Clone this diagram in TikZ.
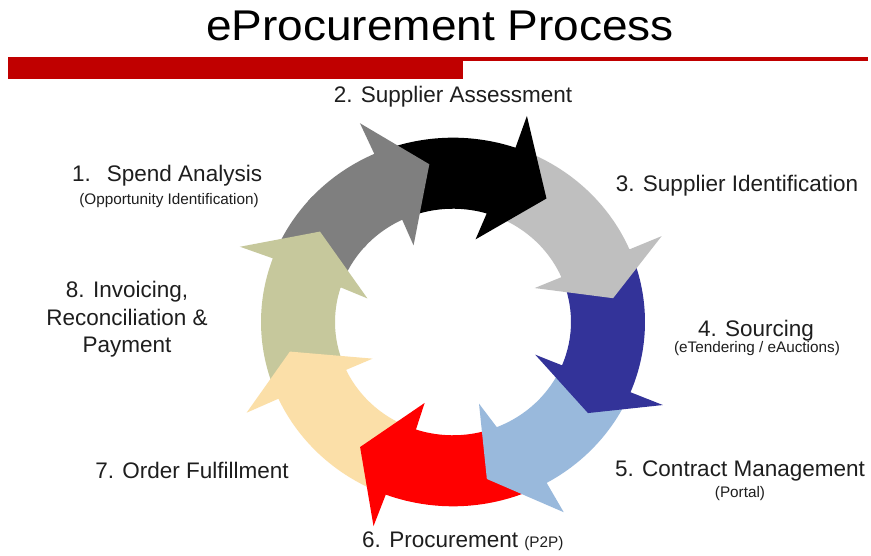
\documentclass[tikz,border=0pt]{standalone}
\usepackage{fontspec}
\setmainfont{Liberation Sans}
\definecolor{arA}{HTML}{7F7F7F}
\definecolor{arB}{HTML}{000000}
\definecolor{arC}{HTML}{BFBFBF}
\definecolor{arD}{HTML}{333399}
\definecolor{arE}{HTML}{99B9DC}
\definecolor{arF}{HTML}{FF0000}
\definecolor{arG}{HTML}{FBDFA8}
\definecolor{arH}{HTML}{C6C89C}
\definecolor{barred}{HTML}{C00000}
\definecolor{txt}{HTML}{1E1E1E}
\def\pRo{192pt}
\def\pRi{118pt}
\def\pHo{227pt}
\def\pHi{89pt}
% arrow: #1 tail outer angle, #2 tail inner angle, #3 outer base angle,
% #4 inner corner angle, #5 inner base angle, #6 tip angle, #7 tip radius, #8 colour
\newcommand\procarrow[8]{%
  \fill[#8] (#1:\pRo) arc[start angle=#1, end angle=#3, radius=\pRo]
    -- (#3:\pHo) -- (#6:#7pt) -- (#4:\pHi) -- (#5:\pRi)
    arc[start angle=#5, end angle=#2, radius=\pRi] -- cycle;}
% plain band: #1 outer start, #2 inner start, #3 end angle, #4 colour
\newcommand\procband[4]{%
  \fill[#4] (#1:\pRo) arc[start angle=#1, end angle=#3, radius=\pRo]
    -- (#3:\pRi) arc[start angle=#3, end angle=#2, radius=\pRi] -- cycle;}
\tikzset{
  mainlbl/.style={font=\fontsize{22.5}{26}\selectfont, text=txt, inner sep=0pt},
  sublbl/.style={font=\fontsize{15.3}{18}\selectfont, text=txt, inner sep=0pt},
}
\begin{document}
\begin{tikzpicture}[x=1pt,y=1pt]
\useasboundingbox (0,0) rectangle (871,556);
\fill[white] (0,0) rectangle (871,556);
% title and bar
\node[font=\fontsize{43}{50}\selectfont, anchor=base, inner sep=0pt, xscale=1.07] (title) at (440,515) {eProcurement Process};
\fill[barred] (8,477) rectangle (463,499);
\fill[barred] (463,495) rectangle (868,499);
% ring of arrows (each head lies over the next arrow's tail)
\begin{scope}[shift={(453,234)}, yscale=0.96]
  \procband{159.8}{162.2}{137}{arA}
  \procarrow{-155.4}{-155}{-200.2}{-196}{-197.8}{-215.3}{163}{arH}
  \procarrow{-110.5}{-108.3}{-155.4}{-154.6}{-155}{-169.3}{166}{arG}
  \procarrow{-60.8}{-68.2}{-110.5}{-108.6}{-108.3}{-125.5}{160}{arF}
  \procarrow{-22.4}{-22.5}{-60.8}{-73}{-68.2}{-78.3}{167}{arE}
  \procarrow{23.2}{23.3}{-22.4}{-22.5}{-22.5}{-35.1}{165}{arD}
  \procarrow{71}{73.4}{23.2}{23.4}{23.3}{8.8}{162}{arC}
  \procarrow{114.2}{115.5}{71}{75.3}{73.4}{54}{159}{arB}
  \procarrow{139}{139}{114.2}{116.3}{115.5}{98.2}{166}{arA}
\end{scope}
% labels
\node[mainlbl, anchor=base] (l2) at (453,453) {2. Supplier Assessment};
\node[mainlbl, anchor=base] (l3) at (737,364) {3. Supplier Identification};
\node[mainlbl, anchor=base] (l4) at (756,219) {4. Sourcing};
\node[sublbl, anchor=base] (l4s) at (757,203) {(eTendering / eAuctions)};
\node[mainlbl, anchor=base] (l5) at (740,79) {5. Contract Management};
\node[sublbl, anchor=base] (l5s) at (740,58) {(Portal)};
\node[mainlbl, anchor=base west] (l6) at (362,8) {6. Procurement {\fontsize{15.3}{18}\selectfont(P2P)}};
\node[mainlbl, anchor=base] (l7) at (192,77) {7. Order Fulfillment};
\node[mainlbl, anchor=base] (l8a) at (127,258) {8. Invoicing,};
\node[mainlbl, anchor=base] (l8b) at (127,230) {Reconciliation \&};
\node[mainlbl, anchor=base] (l8c) at (127,203) {Payment};
\node[mainlbl, anchor=base west] (l1) at (72,374) {1.\hspace{16pt}Spend Analysis};
\node[sublbl, anchor=base] (l1s) at (169,351) {(Opportunity Identification)};
\end{tikzpicture}
\end{document}
